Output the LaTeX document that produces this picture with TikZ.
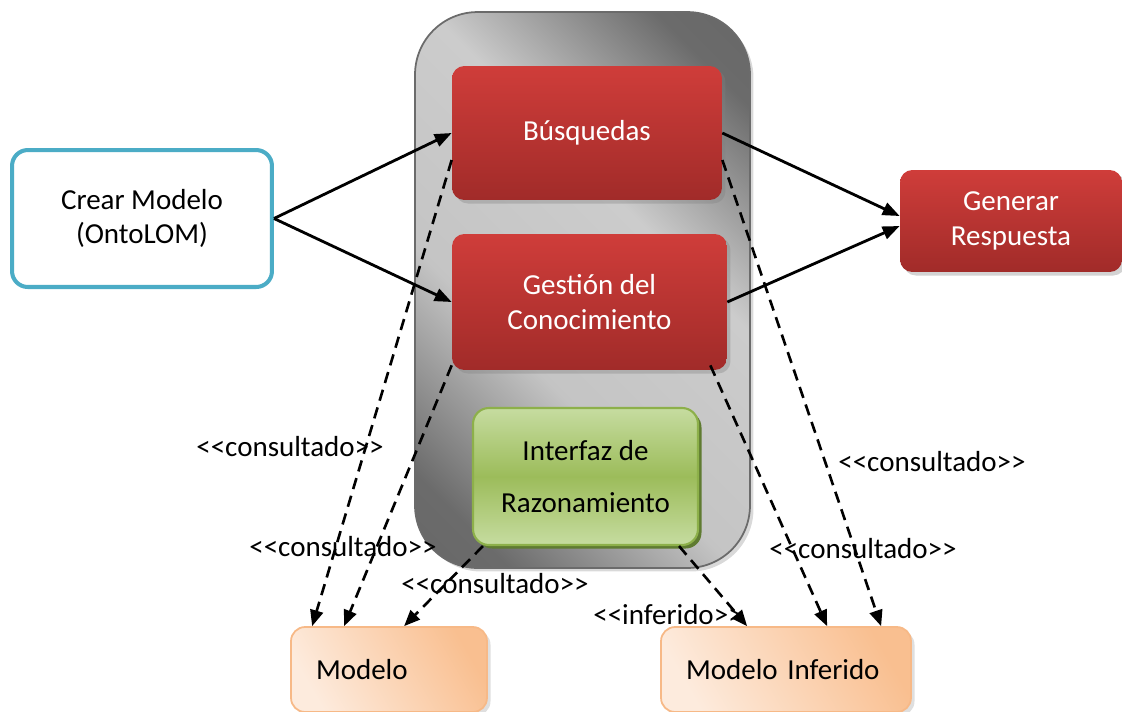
\documentclass[tikz,border=0pt]{standalone}
\usepackage{fontspec}
\setmainfont{Carlito}
\usepackage{tikz}
\usetikzlibrary{arrows.meta,shadows}

\definecolor{redtop}{HTML}{CF3D3A}
\definecolor{redbot}{HTML}{A12B29}
\definecolor{greenline}{HTML}{8DB04A}
\definecolor{greenlight}{HTML}{C6DCA0}
\definecolor{greenmid}{HTML}{9CBC5A}
\definecolor{greendark}{HTML}{5F7B31}
\definecolor{bluebox}{HTML}{4BACC6}
\definecolor{peachline}{HTML}{F7B987}
\definecolor{peachlight}{HTML}{FDEBDD}
\definecolor{peach}{HTML}{F9BF90}

\pgfdeclarehorizontalshading{corefade}{100bp}{color(0bp)=(black!62); color(22bp)=(black!58);
  color(40bp)=(black!23); color(60bp)=(black!20); color(78bp)=(black!58); color(100bp)=(black!62)}

\tikzset{
  redbox/.style={rounded corners=7pt, top color=redtop, bottom color=redbot,
    text=white, align=center, drop shadow={opacity=0.35, shadow xshift=2pt, shadow yshift=-2pt}},
  greenbox/.style={rounded corners=9pt, draw=greenline, line width=1.2pt,
    top color=greenlight, bottom color=greenlight, middle color=greenmid, align=center,
    drop shadow={fill=greendark, opacity=1, shadow xshift=2pt, shadow yshift=-2pt}},
  peachbox/.style={rounded corners=8pt, draw=peachline, line width=1pt,
    left color=peachlight, right color=peach, shading angle=120,
    align=left, inner xsep=0.5cm,
    drop shadow={opacity=0.25, shadow xshift=2pt, shadow yshift=-2pt}},
  flow/.style={line width=1.6pt, -{Triangle[length=0.34cm, width=0.26cm]}},
  uses/.style={line width=1.5pt, dash pattern=on 6.5pt off 4pt,
    -{Triangle[length=0.32cm, width=0.26cm]}},
  tag/.style={inner sep=0pt}
}

\begin{document}
\begin{tikzpicture}[x=0.02cm, y=-0.02cm, font=\fontsize{16.5}{19.5}\selectfont]
\useasboundingbox (0,0) rectangle (1122,711);

% contenedor del razonador
\node[rounded corners=1.25cm, draw=black!58, line width=1pt,
  shading=corefade, shading angle=45,
  drop shadow={opacity=0.3, shadow xshift=2pt, shadow yshift=-2pt},
  minimum width=6.7cm, minimum height=11.12cm] (core) at (582.5,290) {};

% componentes
\node[redbox, minimum width=5.4cm, minimum height=2.68cm] (busq) at (587,133) {Búsquedas};
\node[redbox, minimum width=5.5cm, minimum height=2.72cm] (gest) at (589.5,302) {Gestión del\\Conocimiento};
\node[greenbox, minimum width=4.5cm, minimum height=2.74cm] (razon) at (585.5,476.5)
  {Interfaz de\\[10pt]Razonamiento};
\node[rounded corners=9pt, draw=bluebox, line width=2.3pt, fill=white, align=center,
  minimum width=5.2cm, minimum height=2.74cm] (crear) at (142,218.5) {Crear Modelo\\(OntoLOM)};
\node[redbox, minimum width=4.44cm, minimum height=2.04cm] (gen) at (1011,221) {Generar\\Respuesta};

% modelos
\node[peachbox, minimum width=3.92cm, minimum height=1.7cm, text width=2.92cm] (modelo) at (389,669.5) {Modelo};
\node[peachbox, minimum width=5cm, minimum height=1.7cm, text width=4cm] (minf) at (786,669.5) {Modelo Inferido};

% flujo principal
\draw[flow] (crear.east) -- (busq.west);
\draw[flow] (crear.east) -- (gest.west);
\draw[flow] (busq.east) -- ([yshift=0.1cm]gen.west);
\draw[flow] (gest.east) -- ([yshift=-0.1cm]gen.west);

% dependencias
\draw[uses] ([yshift=-0.54cm]busq.west) -- ([xshift=0.44cm]modelo.north west);
\draw[uses] ([yshift=0.1cm]gest.south west) -- ([xshift=1.08cm]modelo.north west);
\draw[uses] ([xshift=0.22cm]razon.south west) -- ([xshift=2.28cm]modelo.north west);
\draw[uses] ([xshift=-0.4cm]razon.south east) -- ([xshift=1.74cm]minf.north west);
\draw[uses] ([xshift=-0.34cm, yshift=0.1cm]gest.south east) -- ([xshift=3.34cm]minf.north west);
\draw[uses] ([yshift=-0.54cm]busq.east) -- ([xshift=4.42cm]minf.north west);

% etiquetas
\node[tag] (t1) at (290,447) {<{}<consultado>{}>};
\node[tag] (t2) at (343,547) {<{}<consultado>{}>};
\node[tag] (t3) at (495,584) {<{}<consultado>{}>};
\node[tag] (t4) at (668,615) {<{}<inferido>{}>};
\node[tag] (t5) at (863,549) {<{}<consultado>{}>};
\node[tag] (t6) at (932,462) {<{}<consultado>{}>};
\end{tikzpicture}
\end{document}
